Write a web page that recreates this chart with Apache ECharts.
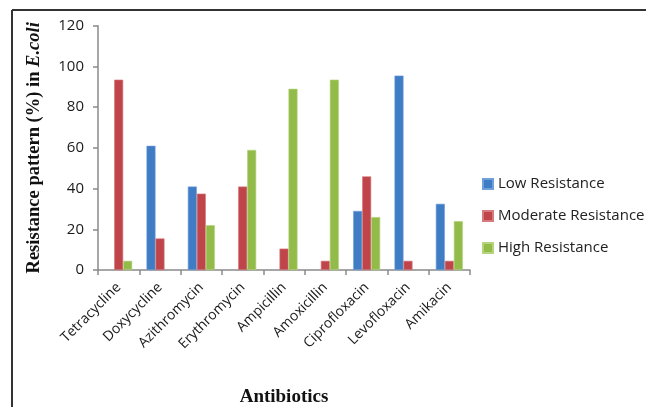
<!DOCTYPE html>
<html><head><meta charset="utf-8">
<script src="https://cdn.jsdelivr.net/npm/echarts@6/dist/echarts.min.js"></script>
<style>html,body{margin:0;padding:0;background:#fff}#c{width:646px;height:407px}</style>
</head><body><div id="c"></div>
<script>
const categories = ['Tetracycline','Doxycycline','Azithromycin','Erythromycin','Ampicillin','Amoxicillin','Ciprofloxacin','Levofloxacin','Amikacin'];
const lowResistance = [null, 61, 41, null, null, null, 29, 95.5, 32.5];
const moderateResistance = [93.5, 15.5, 37.5, 41, 10.5, 4.5, 46, 4.5, 4.5];
const highResistance = [4.5, null, 22, 59, 89, 93.5, 26, null, 24];
const yTicks = [0, 20, 40, 60, 80, 100, 120];

const chart = echarts.init(document.getElementById('c'));
chart.setOption({
  animation:false,
  grid:{left:98, right:176, top:25.7, bottom:137, containLabel:false, outerBoundsMode:'none'},
  legend:{
    orient:'vertical', left:477, top:171, itemWidth:10, itemHeight:10, itemGap:16,
    icon:'rect', textStyle:{fontFamily:'Open Sans', fontSize:15, lineHeight:16, color:'#222'},
    data:['Low Resistance','Moderate Resistance','High Resistance']
  },
  xAxis:{
    type:'category', data:categories,
    axisLine:{lineStyle:{color:'#8a8a8a', width:1.5}},
    axisTick:{show:true, length:5, lineStyle:{color:'#8a8a8a', width:1.5}},
    axisLabel:{rotate:45, margin:15, interval:0, fontFamily:'Open Sans', fontSize:14, color:'#1a1a1a'},
    name:'Antibiotics', nameLocation:'middle', nameGap:118,
    nameTextStyle:{fontFamily:'Liberation Serif', fontWeight:'bold', fontSize:19, color:'#111'}
  },
  yAxis:{
    type:'value', min:yTicks[0], max:yTicks[yTicks.length-1], interval:20,
    splitLine:{show:false},
    axisLine:{show:true, lineStyle:{color:'#8a8a8a', width:1.5}},
    axisTick:{show:true, length:5, lineStyle:{color:'#8a8a8a', width:1.5}},
    axisLabel:{margin:14, fontFamily:'Open Sans', fontSize:15, color:'#1a1a1a'},
    name:'{a|Resistance pattern (%) in }{b|E.coli}', nameLocation:'middle', nameGap:54, nameRotate:90,
    nameTextStyle:{rich:{
      a:{fontFamily:'Liberation Serif', fontWeight:'bold', fontSize:18.5, color:'#111'},
      b:{fontFamily:'Liberation Serif', fontWeight:'bold', fontStyle:'italic', fontSize:18.5, color:'#111'}
    }}
  },
  series:[
    {name:'Low Resistance', type:'bar', data:lowResistance, barWidth:9, barGap:'0%', itemStyle:{color:'#3f7cc4', borderColor:'#6fa0dc', borderWidth:0.6}},
    {name:'Moderate Resistance', type:'bar', data:moderateResistance, barWidth:9, barGap:'0%', itemStyle:{color:'#c0454a', borderColor:'#d77a7d', borderWidth:0.6}},
    {name:'High Resistance', type:'bar', data:highResistance, barWidth:9, barGap:'0%', itemStyle:{color:'#92bb4a', borderColor:'#b5d47e', borderWidth:0.6}}
  ],
  graphic:[
    {type:'line', shape:{x1:12, y1:10, x2:646, y2:10}, style:{stroke:'#333', lineWidth:2}},
    {type:'line', shape:{x1:12, y1:10, x2:12, y2:407}, style:{stroke:'#333', lineWidth:2}}
  ]
});
</script></body></html>
